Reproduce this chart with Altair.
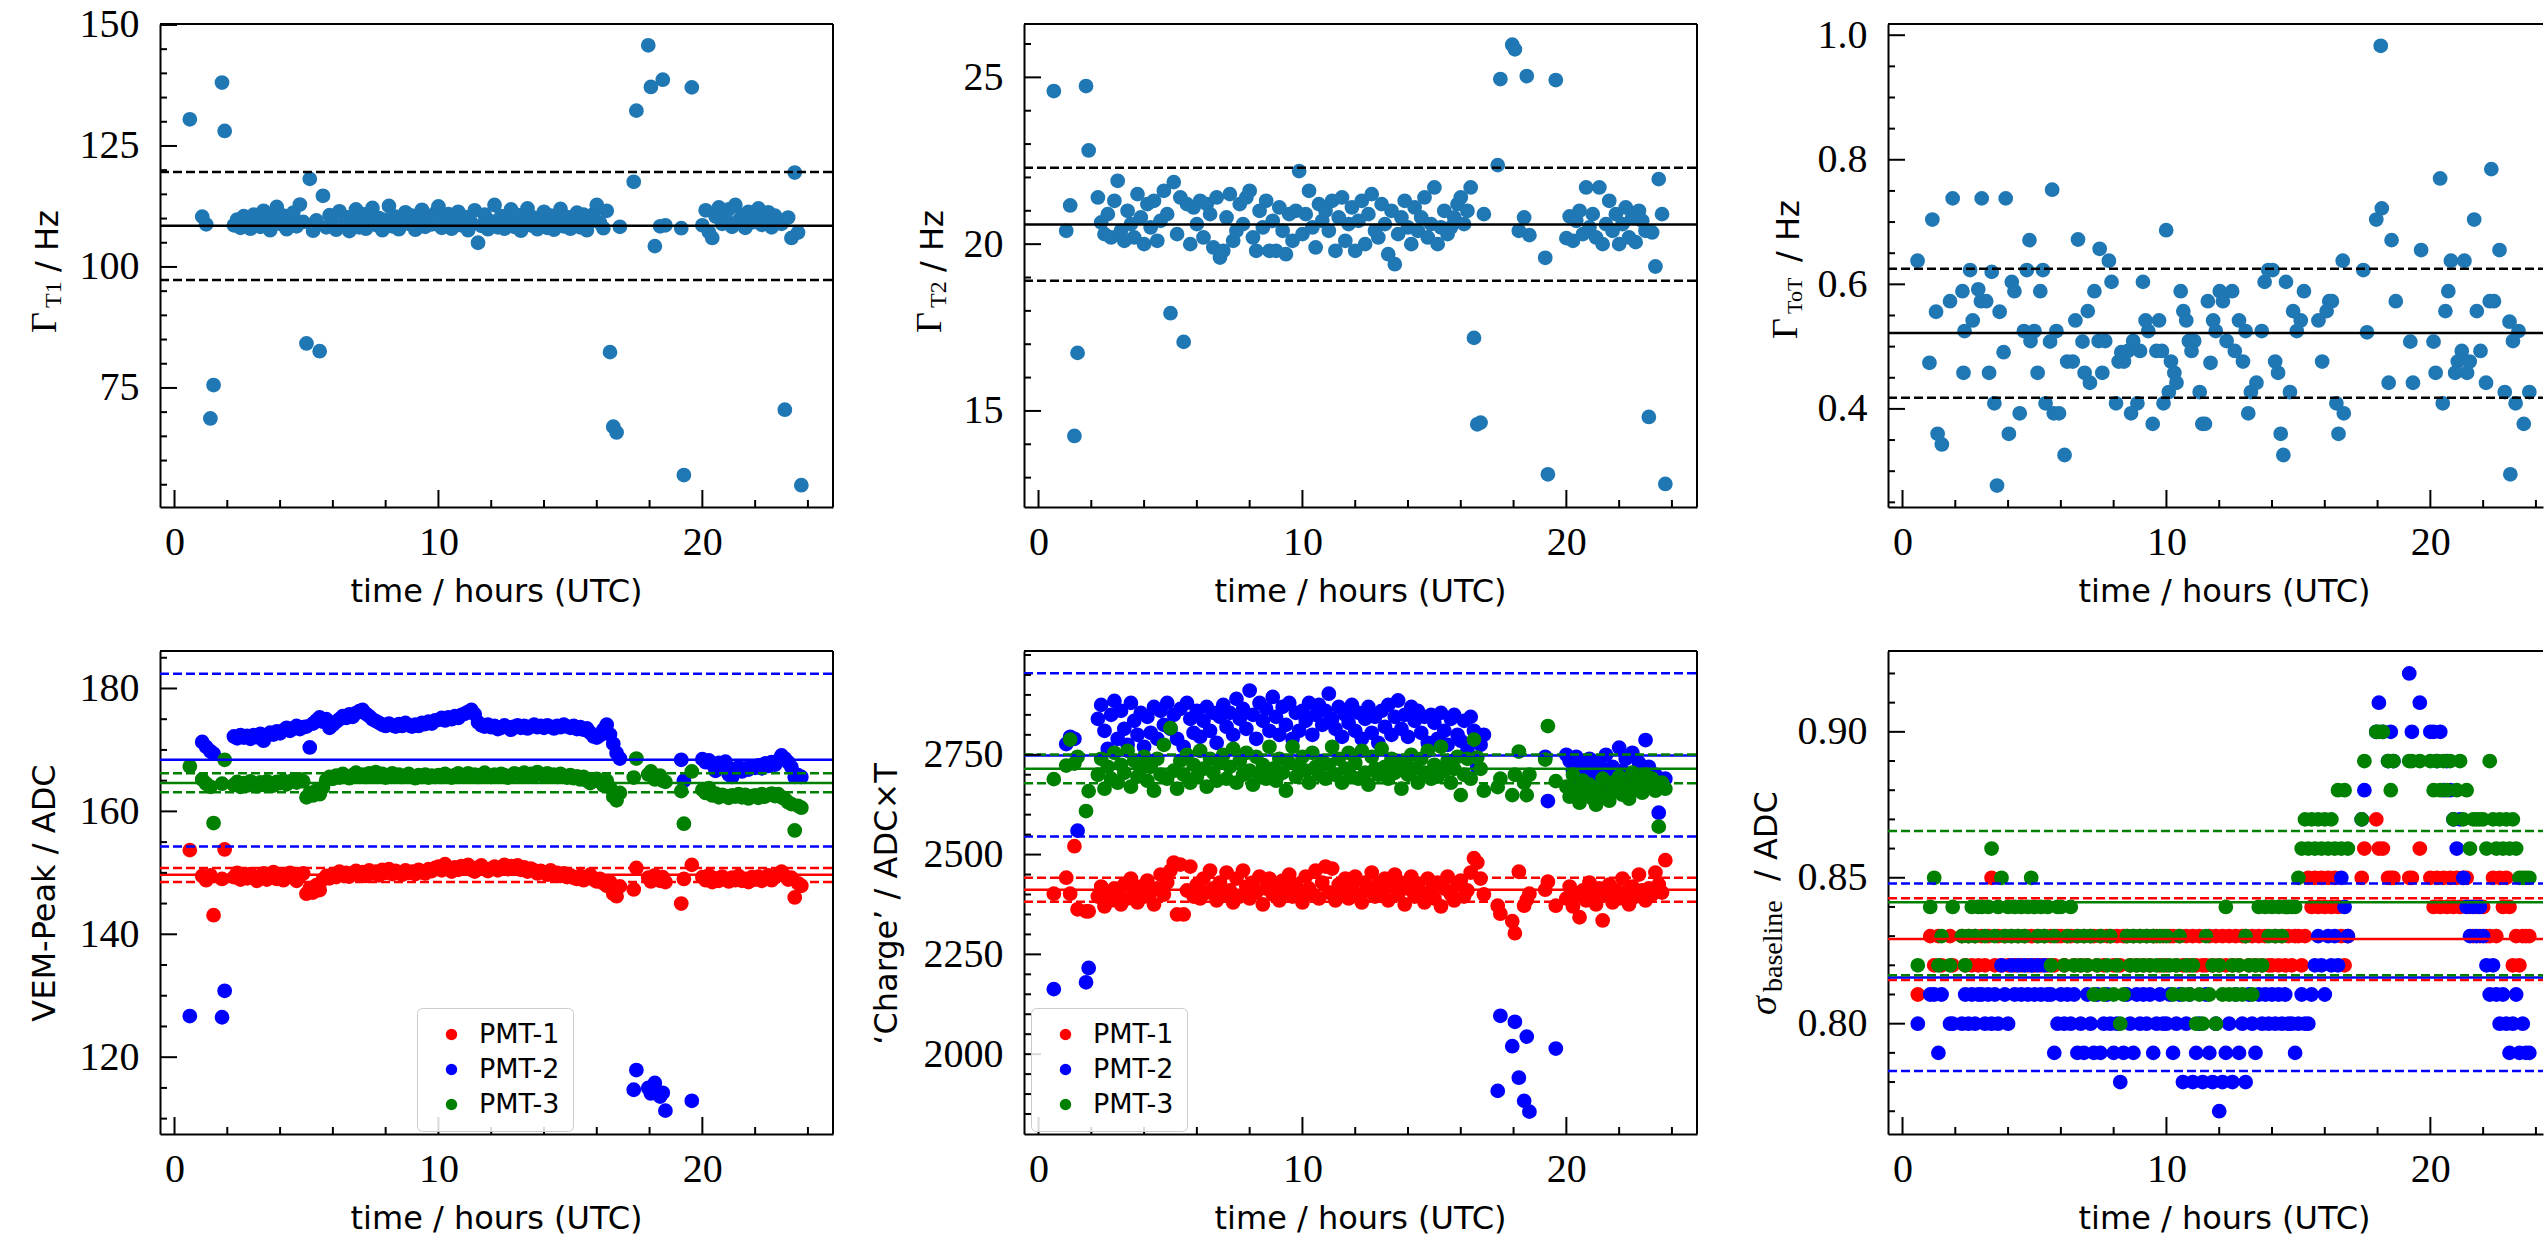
import altair as alt
import pandas as pd

# ---------------- shared categories / styles ----------------
PMT = ["PMT-1", "PMT-2", "PMT-3"]
PMT_COLORS = ["#ff0000", "#0000ff", "#008000"]
DOT = "#1f77b4"
SERIF = "Liberation Serif"
SANS = "DejaVu Sans"
X_TITLE = "time / hours (UTC)"

X_MAJOR = [0, 10, 20]
X_MINOR = [2, 4, 6, 8, 12, 14, 16, 18, 22, 24]

# ---------------- time stamps (hours UTC), grouped in rows ----------------
T_ROWS = [
    [0.58, 1.05, 1.2, 1.36, 1.48, 1.8, 1.9],
    [2.25, 2.375, 2.5, 2.625, 2.75, 2.875],
    [3.0, 3.125, 3.25, 3.375, 3.5, 3.625, 3.75, 3.875],
    [4.0, 4.125, 4.25, 4.375, 4.5, 4.625, 4.75, 4.875],
    [5.0, 5.125, 5.25, 5.375, 5.5, 5.625, 5.75, 5.875],
    [6.0, 6.125, 6.25, 6.375, 6.5, 6.625, 6.75, 6.875],
    [7.0, 7.125, 7.25, 7.375, 7.5, 7.625, 7.75, 7.875],
    [8.0, 8.125, 8.25, 8.375, 8.5, 8.625, 8.75, 8.875],
    [9.0, 9.125, 9.25, 9.375, 9.5, 9.625, 9.75, 9.875],
    [10.0, 10.125, 10.25, 10.375, 10.5, 10.625, 10.75, 10.875],
    [11.0, 11.125, 11.25, 11.375, 11.5, 11.625, 11.75, 11.875],
    [12.0, 12.125, 12.25, 12.375, 12.5, 12.625, 12.75, 12.875],
    [13.0, 13.125, 13.25, 13.375, 13.5, 13.625, 13.75, 13.875],
    [14.0, 14.125, 14.25, 14.375, 14.5, 14.625, 14.75, 14.875],
    [15.0, 15.125, 15.25, 15.375, 15.5, 15.625, 15.75, 15.875],
    [16.0, 16.125, 16.25, 16.375, 16.5, 16.625, 16.75, 16.875],
    [17.4, 17.5, 17.95, 18.05, 18.2, 18.4, 18.5, 18.6, 19.2, 19.3, 19.6],
    [20.0, 20.125, 20.25, 20.375, 20.5, 20.625, 20.75, 20.875],
    [21.0, 21.125, 21.25, 21.375, 21.5, 21.625, 21.75, 21.875],
    [22.0, 22.125, 22.25, 22.375, 22.5, 22.625, 22.75, 22.875],
    [23.0, 23.125, 23.25, 23.375, 23.5, 23.625, 23.75],
]

# ---------------- panel 1: T1 rate (Hz) ----------------
T1_RATE = [
    [130.5, 110.4, 108.8, 68.7, 75.6, 138.1, 128.1],
    [108.6, 109.8, 108.1, 110.5, 109.2, 107.9],
    [110.8, 109.4, 108.3, 111.6, 109.0, 107.6, 110.2, 112.4],
    [108.9, 110.6, 107.8, 109.7, 111.2, 108.4, 112.9, 109.3],
    [84.2, 118.2, 107.5, 109.6, 82.6, 114.7, 108.2, 110.7],
    [109.1, 107.7, 111.5, 108.6, 110.3, 107.4, 109.8, 111.9],
    [108.2, 110.9, 107.9, 109.5, 112.2, 108.7, 110.1, 107.6],
    [109.7, 112.6, 108.4, 110.4, 107.8, 109.2, 111.3, 108.9],
    [110.6, 107.7, 109.9, 111.8, 108.3, 110.2, 108.8, 111.1],
    [112.5, 108.1, 109.6, 110.9, 107.9, 109.3, 111.4, 108.6],
    [110.3, 107.6, 109.1, 111.7, 105.0, 108.5, 110.8, 107.8],
    [109.4, 112.8, 108.2, 110.5, 107.9, 109.8, 111.9, 108.3],
    [110.7, 107.5, 109.3, 112.1, 108.6, 110.2, 107.8, 109.5],
    [111.4, 108.1, 110.6, 107.7, 109.9, 112.0, 108.4, 110.3],
    [107.9, 109.6, 111.2, 108.2, 110.8, 107.6, 109.4, 110.9],
    [112.8, 109.1, 108.0, 111.6, 82.4, 67.0, 65.8, 108.3],
    [117.6, 132.3, 145.8, 137.2, 104.3, 108.4, 138.7, 108.6, 108.0, 57.0, 137.1],
    [108.6, 111.7, 107.2, 106.0, 110.4, 112.3, 108.9, 110.1],
    [111.9, 108.3, 112.8, 109.6, 110.7, 108.1, 111.4, 109.2],
    [110.5, 112.1, 108.7, 109.8, 111.3, 108.2, 110.6, 109.4],
    [108.9, 70.5, 110.2, 106.0, 119.5, 107.1, 54.9],
]
T1_STATS = [97.3, 108.5, 119.6]  # lower, mean, upper

# ---------------- panel 2: T2 rate (Hz) ----------------
T2_RATE = [
    [24.59, 20.4, 21.16, 14.25, 16.74, 24.74, 22.81],
    [21.4, 20.65, 20.3, 20.9, 20.2, 21.3],
    [21.9, 20.4, 20.1, 21.0, 20.6, 20.2, 21.5, 20.8],
    [20.0, 21.2, 20.5, 21.3, 20.1, 20.7, 21.6, 20.9],
    [17.93, 21.86, 20.3, 21.4, 17.07, 21.2, 20.0, 21.1],
    [20.6, 21.3, 20.2, 21.2, 20.9, 19.9, 21.4, 19.6],
    [19.8, 20.8, 21.5, 20.1, 20.4, 21.2, 20.6, 21.4],
    [21.6, 20.2, 19.8, 21.0, 20.5, 21.3, 19.8, 20.7],
    [19.8, 21.1, 20.4, 19.7, 20.9, 20.1, 21.0, 22.19],
    [20.3, 20.9, 21.6, 20.5, 19.9, 21.2, 20.7, 21.0],
    [20.4, 21.3, 19.8, 20.8, 21.4, 20.1, 20.6, 21.1],
    [19.8, 20.7, 21.3, 20.0, 20.9, 21.5, 20.4, 20.2],
    [21.2, 20.6, 19.7, 21.0, 19.4, 20.3, 20.8, 21.3],
    [20.5, 20.0, 21.1, 20.4, 20.8, 21.4, 20.2, 20.6],
    [21.7, 20.0, 20.5, 21.0, 20.3, 20.5, 20.8, 21.2],
    [21.4, 20.6, 21.0, 21.7, 17.19, 14.6, 14.65, 20.9],
    [22.37, 24.95, 25.98, 25.84, 20.4, 20.8, 25.04, 20.27, 19.59, 13.1, 24.92],
    [20.18, 20.83, 20.1, 20.7, 21.0, 20.3, 21.7, 20.5],
    [20.9, 20.2, 21.7, 20.0, 20.6, 21.3, 20.4, 20.9],
    [20.0, 20.6, 21.1, 20.2, 20.8, 20.06, 21.0, 20.7],
    [20.4, 14.82, 20.35, 19.33, 21.95, 20.9, 12.81],
]
T2_STATS = [18.9, 20.59, 22.29]

# ---------------- panel 3: ToT rate (Hz), own time stamps ----------------
TOT_POINTS = [
    [0.57, 0.638], [1.02, 0.474], [1.13, 0.704], [1.27, 0.556], [1.33, 0.36], [1.49, 0.343],
    [1.80, 0.573], [1.90, 0.738], [2.27, 0.589], [2.31, 0.458], [2.35, 0.525], [2.56, 0.623],
    [2.66, 0.542], [2.87, 0.592], [2.97, 0.573], [3.00, 0.738], [3.17, 0.573], [3.28, 0.458],
    [3.38, 0.62], [3.48, 0.409], [3.58, 0.277], [3.68, 0.556], [3.83, 0.491], [3.91, 0.738],
    [4.03, 0.36], [4.14, 0.604], [4.24, 0.589], [4.44, 0.393], [4.60, 0.525], [4.71, 0.623],
    [4.81, 0.671], [4.85, 0.509], [5.00, 0.525], [5.12, 0.458], [5.22, 0.589], [5.32, 0.623],
    [5.42, 0.409], [5.59, 0.508], [5.67, 0.752], [5.73, 0.393], [5.83, 0.525], [5.93, 0.393],
    [6.14, 0.326], [6.24, 0.476], [6.45, 0.476], [6.55, 0.542], [6.65, 0.672], [6.82, 0.508],
    [6.90, 0.458], [7.02, 0.557], [7.10, 0.442], [7.27, 0.589], [7.43, 0.509], [7.47, 0.657],
    [7.57, 0.458], [7.68, 0.509], [7.82, 0.638], [7.92, 0.604], [8.09, 0.409], [8.19, 0.476],
    [8.29, 0.491], [8.39, 0.476], [8.54, 0.493], [8.66, 0.393], [8.74, 0.509], [8.90, 0.409],
    [9.00, 0.493], [9.11, 0.604], [9.21, 0.542], [9.31, 0.525], [9.48, 0.376], [9.62, 0.493],
    [9.72, 0.542], [9.83, 0.493], [9.89, 0.409], [9.99, 0.687], [10.09, 0.427], [10.17, 0.476],
    [10.30, 0.458], [10.38, 0.442], [10.54, 0.589], [10.64, 0.557], [10.75, 0.542], [10.85, 0.509],
    [10.95, 0.493], [11.05, 0.509], [11.26, 0.427], [11.36, 0.376], [11.46, 0.376], [11.57, 0.573],
    [11.67, 0.474], [11.77, 0.542], [11.87, 0.525], [12.02, 0.589], [12.14, 0.573], [12.28, 0.509],
    [12.49, 0.589], [12.59, 0.493], [12.75, 0.542], [12.90, 0.476], [13.00, 0.525], [13.10, 0.393],
    [13.20, 0.427], [13.41, 0.442], [13.61, 0.525], [13.72, 0.604], [13.86, 0.623], [14.02, 0.623],
    [14.12, 0.476], [14.23, 0.458], [14.33, 0.36], [14.43, 0.326], [14.53, 0.604], [14.68, 0.427],
    [14.80, 0.557], [14.94, 0.525], [15.09, 0.542], [15.21, 0.589], [15.76, 0.542], [15.90, 0.476],
    [16.07, 0.557], [16.17, 0.573], [16.27, 0.573], [16.44, 0.409], [16.52, 0.36], [16.68, 0.638],
    [16.72, 0.393], [17.46, 0.623], [17.60, 0.523], [17.95, 0.704], [18.12, 0.983], [18.16, 0.722],
    [18.42, 0.442], [18.53, 0.671], [18.69, 0.573], [19.24, 0.508], [19.34, 0.442], [19.65, 0.655],
    [20.12, 0.508], [20.20, 0.458], [20.37, 0.77], [20.47, 0.409], [20.57, 0.557], [20.68, 0.589],
    [20.78, 0.638], [20.94, 0.458], [21.04, 0.476], [21.19, 0.493], [21.29, 0.638], [21.39, 0.458],
    [21.49, 0.476], [21.66, 0.704], [21.76, 0.557], [21.90, 0.493], [22.11, 0.442], [22.25, 0.573],
    [22.31, 0.785], [22.41, 0.573], [22.62, 0.655], [22.82, 0.427], [23.00, 0.54], [23.03, 0.295],
    [23.13, 0.509], [23.23, 0.409], [23.34, 0.525], [23.54, 0.376], [23.75, 0.427],
]
TOT_STATS = [0.418, 0.522, 0.625]

# ---------------- panel 4: VEM-Peak (ADC) ----------------
VEM_PMT1 = [
    [153.7, 149.5, 148.8, 149.6, 143.1, 149.0, 153.8],
    [149.3, 150.0, 148.9, 149.6, 149.1, 149.8],
    [149.2, 148.7, 149.5, 149.9, 148.9, 149.4, 150.1, 149.0],
    [149.6, 148.8, 149.3, 150.0, 149.2, 148.7, 149.5, 149.9],
    [146.6, 147.5, 146.8, 148.0, 147.2, 148.9, 149.5, 149.1],
    [149.8, 149.3, 150.2, 149.6, 150.0, 149.4, 149.9, 150.3],
    [149.7, 150.1, 149.5, 150.4, 149.9, 150.2, 149.6, 150.5],
    [150.0, 150.6, 149.8, 150.3, 150.1, 149.7, 150.4, 150.0],
    [150.2, 149.8, 150.5, 150.1, 149.9, 150.6, 150.3, 150.8],
    [151.0, 150.4, 151.4, 150.7, 150.2, 150.9, 150.5, 151.1],
    [150.8, 151.3, 150.5, 150.2, 150.9, 151.2, 150.6, 150.3],
    [150.7, 151.0, 150.4, 150.9, 151.3, 150.6, 151.1, 150.8],
    [151.2, 150.5, 150.9, 150.2, 150.7, 150.4, 149.9, 150.3],
    [150.1, 149.7, 150.4, 149.8, 150.0, 149.5, 149.9, 149.3],
    [149.6, 149.2, 149.0, 149.5, 148.8, 149.3, 149.7, 148.9],
    [148.6, 149.0, 148.3, 147.9, 148.5, 146.6, 146.2, 147.8],
    [147.3, 150.8, 149.2, 148.6, 149.6, 148.7, 149.3, 148.5, 145.0, 149.0, 151.3],
    [149.3, 148.8, 149.6, 148.5, 149.1, 148.7, 149.4, 148.9],
    [148.6, 149.2, 148.8, 149.5, 148.7, 149.0, 148.5, 149.3],
    [148.9, 149.4, 148.7, 149.1, 149.6, 148.8, 149.3, 149.7],
    [150.2, 149.5, 148.9, 149.2, 146.0, 148.3, 147.9],
]
VEM_PMT2 = [
    [126.7, 171.3, 170.5, 169.8, 169.4, 126.5, 130.8],
    [172.2, 171.9, 172.4, 172.0, 172.3, 171.8],
    [172.4, 172.1, 172.6, 171.5, 172.3, 172.8, 172.5, 173.0],
    [172.7, 173.2, 173.6, 173.1, 173.5, 173.9, 173.4, 173.7],
    [173.8, 170.4, 174.3, 174.8, 175.3, 174.6, 175.0, 173.6],
    [174.1, 174.6, 175.0, 175.5, 175.2, 175.8, 175.4, 176.0],
    [176.3, 176.5, 175.9, 175.5, 175.0, 174.7, 174.4, 174.1],
    [173.9, 174.3, 174.0, 173.8, 174.2, 173.9, 174.4, 174.0],
    [173.8, 174.1, 173.9, 174.4, 174.2, 174.6, 174.3, 174.8],
    [174.9, 175.2, 174.8, 175.3, 175.0, 175.5, 175.2, 175.7],
    [175.9, 176.2, 176.5, 175.8, 174.5, 174.0, 173.8, 174.1],
    [173.7, 173.9, 173.4, 173.6, 174.0, 173.7, 173.3, 173.8],
    [174.0, 173.6, 173.9, 173.5, 173.8, 174.1, 173.7, 173.9],
    [173.6, 174.0, 173.8, 173.5, 173.9, 173.7, 174.1, 173.8],
    [173.6, 173.9, 173.4, 173.7, 173.3, 173.5, 172.8, 172.2],
    [172.0, 172.4, 173.3, 174.1, 172.5, 171.0, 169.5, 168.6],
    [114.7, 117.9, 115.0, 114.1, 115.8, 113.6, 114.2, 111.3, 168.4, 165.0, 112.9],
    [168.5, 168.0, 168.3, 167.7, 166.6, 167.9, 167.2, 168.1],
    [166.0, 165.6, 166.9, 167.2, 166.5, 167.0, 166.8, 167.3],
    [167.1, 167.5, 167.0, 167.8, 167.4, 168.0, 167.6, 168.3],
    [169.1, 168.6, 168.0, 167.2, 165.6, 165.9, 165.6],
]
VEM_PMT3 = [
    [167.3, 165.2, 164.5, 164.0, 158.1, 164.5, 168.4],
    [164.3, 164.8, 164.0, 164.6, 164.2, 164.9],
    [164.4, 164.1, 164.7, 164.3, 164.9, 164.5, 164.2, 164.8],
    [164.6, 165.0, 164.4, 164.8, 165.1, 164.7, 165.2, 164.9],
    [162.3, 163.0, 162.6, 163.4, 162.8, 163.9, 165.1, 165.6],
    [165.3, 165.8, 165.5, 166.1, 165.7, 165.4, 165.9, 166.3],
    [165.8, 166.0, 165.6, 166.2, 165.9, 166.4, 165.7, 166.1],
    [165.5, 165.9, 166.2, 165.7, 166.0, 165.6, 165.8, 166.1],
    [165.7, 165.4, 165.9, 165.6, 166.0, 165.5, 165.8, 165.6],
    [165.9, 165.6, 166.1, 165.8, 165.5, 165.9, 166.2, 165.7],
    [165.9, 166.2, 165.8, 166.0, 165.6, 165.9, 166.3, 165.8],
    [165.6, 166.0, 165.7, 166.1, 165.9, 165.5, 165.8, 166.2],
    [166.0, 165.7, 166.3, 165.9, 166.1, 165.8, 166.4, 166.0],
    [165.8, 166.2, 165.9, 166.0, 165.6, 166.1, 165.8, 165.5],
    [165.9, 165.4, 165.7, 165.2, 165.6, 165.0, 164.6, 165.1],
    [165.3, 164.8, 164.2, 165.0, 163.9, 162.4, 161.8, 163.0],
    [165.5, 168.6, 166.0, 166.5, 165.2, 165.8, 165.0, 164.8, 163.3, 158.0, 166.5],
    [163.5, 163.0, 163.8, 162.6, 162.9, 162.3, 162.7, 162.5],
    [162.2, 162.6, 162.4, 162.8, 162.3, 162.7, 162.1, 162.5],
    [162.6, 162.2, 162.8, 162.4, 162.7, 162.9, 162.5, 162.8],
    [162.3, 162.0, 161.5, 161.2, 156.9, 160.9, 160.6],
]
VEM_STATS = {"PMT-1": [148.5, 149.7, 150.8], "PMT-2": [154.3, 168.4, 182.4], "PMT-3": [163.1, 164.6, 166.2]}

# ---------------- panel 5: 'Charge' (ADC x T) ----------------
CHG_PMT1 = [
    [2402, 2442, 2402, 2521, 2363, 2358, 2358],
    [2395, 2420, 2370, 2405, 2385, 2415],
    [2400, 2375, 2425, 2390, 2440, 2410, 2380, 2420],
    [2395, 2435, 2405, 2375, 2415, 2450, 2400, 2430],
    [2460, 2480, 2350, 2475, 2350, 2410, 2470, 2395],
    [2425, 2390, 2440, 2405, 2460, 2415, 2385, 2430],
    [2400, 2455, 2410, 2380, 2440, 2395, 2460, 2420],
    [2390, 2430, 2405, 2445, 2375, 2415, 2440, 2400],
    [2420, 2385, 2435, 2410, 2450, 2395, 2425, 2405],
    [2380, 2445, 2415, 2400, 2460, 2390, 2430, 2470],
    [2405, 2465, 2385, 2425, 2400, 2440, 2390, 2420],
    [2445, 2400, 2380, 2430, 2410, 2455, 2395, 2425],
    [2405, 2440, 2385, 2420, 2450, 2400, 2430, 2375],
    [2415, 2445, 2395, 2425, 2405, 2380, 2440, 2410],
    [2390, 2430, 2370, 2415, 2445, 2400, 2385, 2425],
    [2435, 2395, 2410, 2455, 2491, 2480, 2440, 2400],
    [2372, 2352, 2333, 2303, 2457, 2372, 2387, 2402, 2412, 2432, 2372],
    [2390, 2420, 2370, 2400, 2343, 2410, 2385, 2430],
    [2395, 2375, 2415, 2335, 2400, 2425, 2380, 2410],
    [2390, 2440, 2405, 2375, 2420, 2395, 2450, 2410],
    [2385, 2415, 2400, 2455, 2425, 2405, 2486],
]
CHG_PMT2 = [
    [2163, 2777, 2795, 2790, 2560, 2180, 2216],
    [2840, 2875, 2810, 2765, 2850, 2885],
    [2790, 2860, 2815, 2775, 2880, 2835, 2800, 2855],
    [2770, 2845, 2805, 2870, 2790, 2860, 2825, 2880],
    [2815, 2850, 2790, 2865, 2770, 2880, 2840, 2805],
    [2860, 2795, 2835, 2870, 2810, 2855, 2780, 2845],
    [2875, 2820, 2855, 2800, 2890, 2840, 2865, 2815],
    [2911, 2850, 2790, 2880, 2835, 2865, 2810, 2895],
    [2845, 2800, 2870, 2825, 2880, 2790, 2855, 2810],
    [2860, 2835, 2880, 2800, 2850, 2875, 2825, 2860],
    [2903, 2840, 2815, 2870, 2795, 2850, 2830, 2875],
    [2810, 2855, 2790, 2840, 2870, 2805, 2845, 2780],
    [2860, 2820, 2875, 2800, 2845, 2886, 2815, 2850],
    [2795, 2870, 2835, 2860, 2805, 2845, 2780, 2850],
    [2830, 2790, 2855, 2810, 2775, 2840, 2850, 2800],
    [2785, 2835, 2760, 2845, 2810, 2718, 2775, 2800],
    [1908, 2096, 2020, 2081, 1941, 1883, 2044, 1856, 2745, 2634, 2014],
    [2750, 2735, 2710, 2745, 2690, 2725, 2700, 2740],
    [2715, 2685, 2730, 2705, 2750, 2680, 2720, 2695],
    [2768, 2710, 2740, 2690, 2755, 2705, 2730, 2660],
    [2787, 2720, 2695, 2700, 2605, 2680, 2690],
]
CHG_PMT3 = [
    [2689, 2723, 2788, 2728, 2745, 2609, 2659],
    [2700, 2740, 2665, 2720, 2690, 2755],
    [2680, 2725, 2705, 2760, 2670, 2735, 2695, 2715],
    [2745, 2685, 2720, 2660, 2740, 2700, 2775, 2690],
    [2817, 2710, 2665, 2735, 2700, 2750, 2680, 2725],
    [2695, 2760, 2715, 2670, 2740, 2705, 2685, 2730],
    [2750, 2690, 2720, 2765, 2680, 2735, 2700, 2755],
    [2710, 2675, 2745, 2700, 2725, 2690, 2770, 2715],
    [2685, 2740, 2705, 2660, 2730, 2770, 2695, 2720],
    [2745, 2710, 2680, 2755, 2720, 2700, 2735, 2690],
    [2725, 2770, 2700, 2740, 2680, 2715, 2755, 2695],
    [2730, 2690, 2760, 2705, 2675, 2745, 2715, 2700],
    [2765, 2720, 2690, 2740, 2705, 2735, 2665, 2725],
    [2700, 2750, 2715, 2680, 2740, 2705, 2760, 2690],
    [2725, 2695, 2770, 2710, 2735, 2680, 2715, 2745],
    [2649, 2700, 2740, 2690, 2788, 2743, 2715, 2660],
    [2669, 2690, 2649, 2700, 2758, 2680, 2649, 2700, 2738, 2822, 2684],
    [2670, 2645, 2700, 2660, 2630, 2685, 2650, 2675],
    [2640, 2625, 2665, 2690, 2650, 2635, 2680, 2660],
    [2695, 2650, 2675, 2640, 2705, 2665, 2685, 2655],
    [2700, 2670, 2690, 2660, 2570, 2680, 2665],
]
CHG_STATS = {"PMT-1": [2382, 2412, 2442], "PMT-2": [2545, 2748, 2954], "PMT-3": [2679, 2715, 2751]}

# ---------------- panel 6: baseline sigma (in 0.01 ADC units) ----------------
SIG_PMT1 = [
    [81, 83, 82, 83, 82, 83, 82],
    [83, 82, 83, 82, 83, 82],
    [83, 82, 83, 85, 82, 83, 82, 83],
    [82, 83, 82, 83, 82, 83, 82, 83],
    [82, 83, 82, 83, 82, 83, 82, 83],
    [83, 82, 83, 83, 82, 83, 82, 83],
    [82, 83, 83, 82, 83, 82, 83, 83],
    [82, 83, 82, 83, 83, 82, 83, 82],
    [83, 82, 83, 82, 83, 83, 82, 83],
    [82, 83, 83, 82, 83, 82, 83, 82],
    [83, 82, 83, 82, 82, 83, 82, 83],
    [82, 83, 82, 83, 82, 83, 82, 83],
    [83, 82, 83, 82, 83, 82, 83, 82],
    [82, 83, 82, 83, 82, 83, 82, 83],
    [83, 82, 83, 85, 84, 85, 84, 85],
    [84, 85, 84, 85, 84, 83, 82, 83],
    [85, 86, 87, 86, 86, 85, 85, 85, 85, 85, 86],
    [85, 84, 85, 84, 85, 84, 85, 84],
    [85, 84, 85, 85, 84, 83, 84, 83],
    [84, 83, 83, 85, 83, 85, 84, 85],
    [84, 82, 83, 82, 83, 83, 83],
]
SIG_PMT2 = [
    [80, 81, 81, 79, 81, 80, 80],
    [80, 81, 80, 81, 80, 81],
    [81, 80, 81, 80, 81, 80, 82, 81],
    [80, 82, 81, 82, 81, 82, 81, 82],
    [81, 82, 81, 82, 81, 81, 79, 80],
    [81, 80, 81, 80, 81, 79, 80, 79],
    [81, 80, 79, 81, 79, 80, 81, 80],
    [79, 80, 78, 79, 81, 80, 79, 81],
    [80, 81, 80, 81, 79, 80, 81, 80],
    [80, 81, 79, 80, 81, 78, 80, 81],
    [78, 79, 80, 78, 81, 79, 78, 80],
    [77, 78, 79, 80, 78, 81, 79, 80],
    [78, 81, 80, 79, 81, 80, 81, 80],
    [81, 80, 81, 80, 81, 80, 80, 79],
    [80, 81, 80, 80, 81, 82, 83, 82],
    [81, 83, 82, 83, 82, 85, 84, 83],
    [87, 88, 90, 91, 90, 89, 90, 89, 92, 90, 91],
    [90, 90, 89, 90, 88, 89, 88, 87],
    [86, 87, 85, 84, 83, 84, 83, 84],
    [83, 82, 81, 82, 81, 80, 81, 80],
    [79, 80, 81, 79, 80, 79, 79],
]
SIG_PMT3 = [
    [82, 84, 85, 82, 83, 82, 84],
    [83, 82, 83, 84, 83, 84],
    [84, 83, 84, 86, 83, 84, 85, 83],
    [84, 83, 84, 83, 84, 83, 84, 85],
    [84, 83, 84, 83, 84, 82, 83, 84],
    [84, 82, 83, 84, 82, 83, 82, 83],
    [82, 83, 81, 82, 83, 81, 82, 83],
    [81, 82, 80, 81, 83, 82, 83, 82],
    [83, 82, 83, 82, 83, 82, 83, 82],
    [83, 82, 81, 82, 83, 81, 82, 81],
    [82, 80, 81, 80, 83, 81, 82, 80],
    [82, 81, 84, 81, 82, 81, 82, 81],
    [83, 82, 81, 82, 84, 82, 84, 83],
    [84, 83, 84, 83, 84, 84, 84, 84],
    [85, 86, 87, 86, 87, 86, 87, 86],
    [87, 86, 87, 86, 88, 86, 88, 86],
    [87, 89, 90, 90, 90, 89, 88, 89, 89, 89, 89],
    [89, 88, 89, 88, 89, 88, 89, 87],
    [88, 89, 87, 88, 86, 87, 87, 87],
    [87, 86, 89, 87, 86, 87, 86, 87],
    [86, 87, 86, 85, 85, 85, 85],
]
SIG_STATS = {"PMT-1": [0.815, 0.829, 0.843], "PMT-2": [0.7838, 0.8158, 0.848], "PMT-3": [0.8166, 0.8416, 0.866]}


# ---------------- helpers ----------------
def grid_frame(rows, scale=1.0, pmt=None):
    recs = []
    for rt, rv in zip(T_ROWS, rows):
        for t, v in zip(rt, rv):
            recs.append({"t": t, "v": v * scale})
    df = pd.DataFrame(recs)
    if pmt is not None:
        df["pmt"] = pmt
    return df


def pmt_frame(series, scale=1.0):
    return pd.concat([grid_frame(s, scale, p) for s, p in zip(series, PMT)], ignore_index=True)


W, H = 673, 483
W_CUT = 655
MAJ, MIN = 17, 7
ONE = pd.DataFrame({"k": [0]})


def panel(df, width, xdom, ydom, ymaj, ymin, yfmt, titles, stats, multi=False, legend_xy=None):
    xax = alt.Axis(values=X_MAJOR, format="d", ticks=False, tickSize=0, grid=False,
                   domainColor="black", domainWidth=2, labelFont=SERIF, labelFontSize=40,
                   labelColor="black", labelPadding=15, labelFlush=False, labelOverlap=False,
                   title=None)
    yax = alt.Axis(values=ymaj, format=yfmt, ticks=False, tickSize=0, grid=False,
                   domainColor="black", domainWidth=2, labelFont=SERIF, labelFontSize=40,
                   labelColor="black", labelPadding=21, labelFlush=False, labelOverlap=False,
                   title=None)
    X = alt.X("t:Q", scale=alt.Scale(domain=xdom, nice=False, zero=False), axis=xax)
    Y = alt.Y("v:Q", scale=alt.Scale(domain=ydom, nice=False, zero=False), axis=yax)

    layers = []
    pts = alt.Chart(df).mark_circle(size=218, opacity=1)
    if multi:
        leg = None
        if legend_xy is not None:
            leg = alt.Legend(orient="none", legendX=legend_xy[0], legendY=legend_xy[1], title=None,
                             labelFont=SANS, labelFontSize=27, labelColor="black",
                             symbolType="circle", symbolSize=130, symbolStrokeWidth=0,
                             symbolOpacity=1, padding=13, symbolOffset=8, labelOffset=14,
                             rowPadding=7, strokeColor="#cccccc", fillColor="rgba(255,255,255,0.85)",
                             cornerRadius=5)
        pts = pts.encode(x=X, y=Y, color=alt.Color("pmt:N", scale=alt.Scale(domain=PMT, range=PMT_COLORS), legend=leg))
    else:
        pts = pts.encode(x=X, y=Y, color=alt.value(DOT))
    layers.append(pts)

    for col, (lo, mid, hi) in stats:
        layers.append(alt.Chart(pd.DataFrame({"v": [lo, hi]})).mark_rule(color=col, strokeWidth=2.5, strokeDash=[9, 4])
                      .encode(y=Y, x=alt.value(0), x2=alt.value(width)))
        layers.append(alt.Chart(pd.DataFrame({"v": [mid]})).mark_rule(color=col, strokeWidth=2.5)
                      .encode(y=Y, x=alt.value(0), x2=alt.value(width)))

    xmin_vals = [v for v in X_MINOR if xdom[0] < v < xdom[1]]
    layers.append(alt.Chart(pd.DataFrame({"t": X_MAJOR})).mark_rule(color="black", strokeWidth=2)
                  .encode(x=X, y=alt.value(H), y2=alt.value(H - MAJ)))
    layers.append(alt.Chart(pd.DataFrame({"t": xmin_vals})).mark_rule(color="black", strokeWidth=2)
                  .encode(x=X, y=alt.value(H), y2=alt.value(H - MIN)))
    layers.append(alt.Chart(pd.DataFrame({"v": ymaj})).mark_rule(color="black", strokeWidth=2)
                  .encode(y=Y, x=alt.value(0), x2=alt.value(MAJ)))
    layers.append(alt.Chart(pd.DataFrame({"v": ymin})).mark_rule(color="black", strokeWidth=2)
                  .encode(y=Y, x=alt.value(0), x2=alt.value(MIN)))

    # frame: top always, right only when the panel is not cut by the picture edge
    layers.append(alt.Chart(ONE).mark_rule(color="black", strokeWidth=2)
                  .encode(x=alt.value(0), x2=alt.value(width), y=alt.value(0)))
    if width == W:
        layers.append(alt.Chart(ONE).mark_rule(color="black", strokeWidth=2)
                      .encode(x=alt.value(width), y=alt.value(0), y2=alt.value(H)))

    # x-axis title (centred on the full, uncut panel width)
    layers.append(alt.Chart(ONE).mark_text(text=X_TITLE, font=SANS, fontSize=32, align="center",
                                           baseline="alphabetic", color="black")
                  .encode(x=alt.value(W / 2), y=alt.value(H + 95)))

    # y-axis title pieces (rotated)
    for txt, font, size, style, xo, yo, align in titles:
        layers.append(alt.Chart(ONE).mark_text(text=txt, font=font, fontSize=size, fontStyle=style,
                                               angle=270, align=align, baseline="alphabetic", color="black")
                      .encode(x=alt.value(xo), y=alt.value(yo)))

    return alt.layer(*layers).properties(width=width, height=H)


# ---------------- dataframes ----------------
df1 = grid_frame(T1_RATE)
df2 = grid_frame(T2_RATE)
df3 = pd.DataFrame(TOT_POINTS, columns=["t", "v"])
df4 = pmt_frame([VEM_PMT1, VEM_PMT2, VEM_PMT3])
df5 = pmt_frame([CHG_PMT1, CHG_PMT2, CHG_PMT3])
df6 = pmt_frame([SIG_PMT1, SIG_PMT2, SIG_PMT3], scale=0.01)

XDOM = [-0.55, 24.95]
XDOM_CUT = [-0.55, 24.95 - (W - W_CUT) / (W / 25.5)]

p1 = panel(df1, W, XDOM, [50.4, 150.2], [75, 100, 125, 150],
           [55, 60, 65, 70, 80, 85, 90, 95, 105, 110, 115, 120, 130, 135, 140, 145], "d",
           [("Γ", SERIF, 36, "normal", -104, 309, "left"),
            ("T1", SERIF, 24, "normal", -99, 284, "left"),
            ("/ Hz", SANS, 32, "normal", -102, 248, "left")],
           [("black", T1_STATS)])
p2 = panel(df2, W, XDOM, [12.12, 26.6], [15, 20, 25],
           [13, 14, 16, 17, 18, 19, 21, 22, 23, 24, 26], "d",
           [("Γ", SERIF, 36, "normal", -83, 309, "left"),
            ("T2", SERIF, 24, "normal", -78, 284, "left"),
            ("/ Hz", SANS, 32, "normal", -81, 248, "left")],
           [("black", T2_STATS)])
p3 = panel(df3, W_CUT, XDOM_CUT, [0.2425, 1.018], [0.4, 0.6, 0.8, 1.0],
           [0.25, 0.3, 0.35, 0.45, 0.5, 0.55, 0.65, 0.7, 0.75, 0.85, 0.9, 0.95], ".1f",
           [("Γ", SERIF, 36, "normal", -91, 315, "left"),
            ("ToT", SERIF, 22, "normal", -86, 290, "left"),
            ("/ Hz", SANS, 32, "normal", -89, 238, "left")],
           [("black", TOT_STATS)])
p4 = panel(df4, W, XDOM, [107.5, 186.1], [120, 140, 160, 180],
           [110, 115, 125, 130, 135, 145, 150, 155, 165, 170, 175, 185], "d",
           [("VEM-Peak / ADC", SANS, 32, "normal", -105, 242, "center")],
           [(c, VEM_STATS[p]) for p, c in zip(PMT, PMT_COLORS)], multi=True, legend_xy=(257, 357))
p5 = panel(df5, W, XDOM, [1800, 3010], [2000, 2250, 2500, 2750],
           [1850, 1900, 1950, 2050, 2100, 2150, 2200, 2300, 2350, 2400, 2450, 2550, 2600, 2650, 2700,
            2800, 2850, 2900, 2950, 3000], "d",
           [("‘Charge’ / ADC×T", SANS, 32, "normal", -127, 253, "center")],
           [(c, CHG_STATS[p]) for p, c in zip(PMT, PMT_COLORS)], multi=True, legend_xy=(7, 357))
p6 = panel(df6, W_CUT, XDOM_CUT, [0.7622, 0.9277], [0.80, 0.85, 0.90],
           [0.77, 0.78, 0.79, 0.81, 0.82, 0.83, 0.84, 0.86, 0.87, 0.88, 0.89, 0.91, 0.92], ".2f",
           [("σ", SERIF, 38, "italic", -112, 364, "left"),
            ("baseline", SERIF, 28, "normal", -106, 341, "left"),
            ("/ ADC", SANS, 32, "normal", -111, 230, "left")],
           [(c, SIG_STATS[p]) for p, c in zip(PMT, PMT_COLORS)], multi=True)

chart = (
    alt.concat(p1, p2, p3, p4, p5, p6, columns=3, spacing={"row": 144, "column": 191}, bounds="flush")
    .resolve_scale(x="independent", y="independent", color="independent")
    .resolve_legend(color="independent")
    .properties(padding={"left": 27, "top": 4, "right": 0, "bottom": 6}, background="white")
    .configure_view(stroke=None)
)

chart.save("out.html", embed_options={"renderer": "svg", "actions": False})
